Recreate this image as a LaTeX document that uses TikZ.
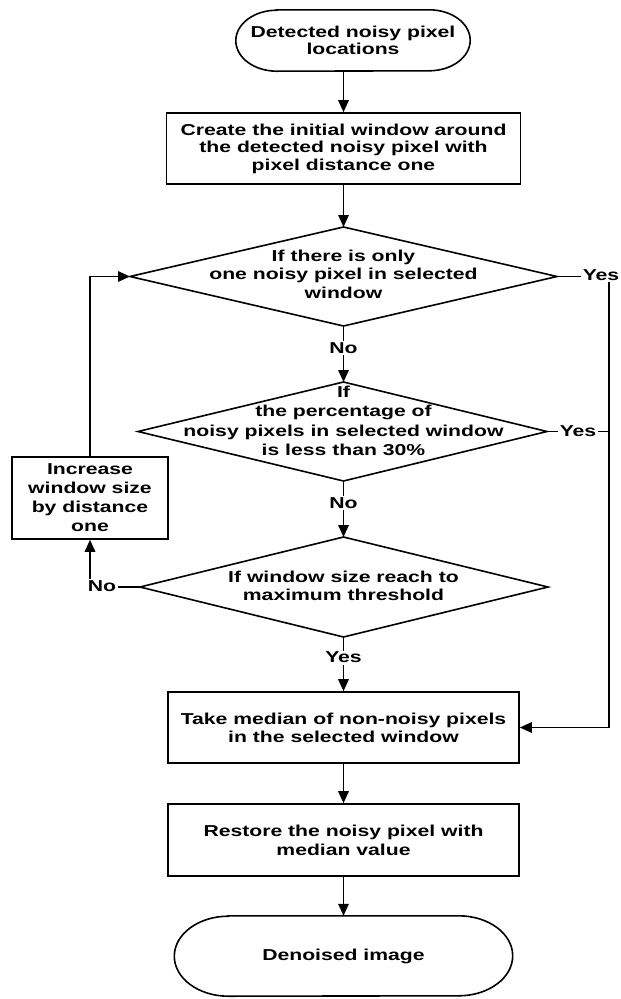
\documentclass[tikz,border=0pt]{standalone}
\usepackage{fontspec}
\newfontfamily\diagfont{Liberation Sans}[FakeStretch=1.34]
\usetikzlibrary{arrows.meta,calc}
\tikzset{
  txt/.style={font=\diagfont\bfseries\fontsize{15.8}{#1}\selectfont, align=center, inner sep=0pt},
  txt/.default=18.5,
  con/.style={line width=1.6pt, line join=miter},
  boxnode/.style={txt, draw, line width=1.6pt, minimum width=351pt, minimum height=71pt},
  lbl/.style={font=\diagfont\bfseries\fontsize{15.8}{18.5}\selectfont, fill=white, inner sep=1.5pt},
  arr/.style={con, -{Triangle[length=12pt,width=10.5pt]}},
}
\begin{document}
\begin{tikzpicture}[x=1pt,y=-1pt]
\useasboundingbox (0,0) rectangle (621,999);
% start terminator
\node[txt=17, minimum width=234pt, minimum height=61pt] (start) at (353,40.5) {Detected noisy pixel\\locations};
\draw[con] ($(start.north west)+(41,0)$) -- ($(start.north east)+(-41,0)$)
  arc[start angle=270,end angle=450,x radius=41,y radius=30.5]
  -- ($(start.south west)+(41,0)$)
  arc[start angle=90,end angle=270,x radius=41,y radius=30.5] -- cycle;
% box 1
\node[boxnode, txt=17.5, minimum width=354pt] (box1) at (343.5,148.5) {Create the initial window around\\the detected noisy pixel with\\pixel distance one};
% diamond 1
\coordinate (d1t) at (343.5,227);
\coordinate (d1r) at (557,276.5);
\coordinate (d1b) at (343.5,326);
\coordinate (d1l) at (130,276.5);
\draw[con] (d1t) -- (d1r) -- (d1b) -- (d1l) -- cycle;
\node[txt] (d1txt) at (343.5,274) {If there is only\\one noisy pixel in selected\\window};
% diamond 2
\coordinate (d2t) at (343.5,382);
\coordinate (d2r) at (547,431.5);
\coordinate (d2b) at (343.5,481);
\coordinate (d2l) at (138,431.5);
\draw[con] (d2t) -- (d2r) -- (d2b) -- (d2l) -- cycle;
\node[txt=19.3] (d2txt) at (343.5,421) {If\\the percentage of\\noisy pixels in selected window\\is less than 30\%};
% diamond 3
\coordinate (d3t) at (343.5,537);
\coordinate (d3r) at (548,587);
\coordinate (d3b) at (343.5,637);
\coordinate (d3l) at (140,587);
\draw[con] (d3t) -- (d3r) -- (d3b) -- (d3l) -- cycle;
\node[txt] (d3txt) at (343.5,586) {If window size reach to\\maximum threshold};
% increase box
\node[boxnode, txt=19, minimum width=156pt, minimum height=82pt] (inc) at (90,498) {Increase\\window size\\by distance\\one};
% median and restore boxes
\node[boxnode, txt=18.3] (med) at (343.5,727.5) {Take median of non-noisy pixels\\in the selected window};
\node[boxnode, txt=19, minimum height=72pt] (rest) at (343.5,840) {Restore the noisy pixel with\\median value};
% end terminator
\node[txt, minimum width=338pt, minimum height=80pt] (end) at (343.5,956) {Denoised image};
\draw[con] ($(end.north west)+(54,0)$) -- ($(end.north east)+(-54,0)$)
  arc[start angle=270,end angle=450,x radius=54,y radius=40]
  -- ($(end.south west)+(54,0)$)
  arc[start angle=90,end angle=270,x radius=54,y radius=40] -- cycle;
% helper coordinates
\coordinate (rx) at (609,276.5);
\coordinate (lx) at (90,587);
% connectors
\draw[arr] (start.south -| box1.north) -- (box1.north);
\draw[arr] (box1.south) -- (d1t);
\draw[arr] (d1b) -- node[lbl,pos=0.39] (no1) {No} (d2t);
\draw[arr] (d2b) -- node[lbl,pos=0.39] (no2) {No} (d3t);
\draw[arr] (d3b) -- node[lbl,pos=0.38] (yes3) {Yes} (med.north);
\draw[arr] (d3l) -- (lx) -- (inc.south);
\node[lbl] (no3) at (102,586) {No};
\draw[arr] (inc.north) -- (inc.north |- d1l) -- (d1l);
\draw[arr] (d1r) -- (rx) -- (rx |- med.east) -- (med.east);
\node[lbl] (yes1) at (601,275) {Yes};
\draw[con] (d2r) -- (d2r -| rx);
\node[lbl] (yes2) at (578,431.5) {Yes};
\draw[arr] (med.south) -- (rest.north);
\draw[arr] (rest.south) -- (end.north);
\end{tikzpicture}
\end{document}
